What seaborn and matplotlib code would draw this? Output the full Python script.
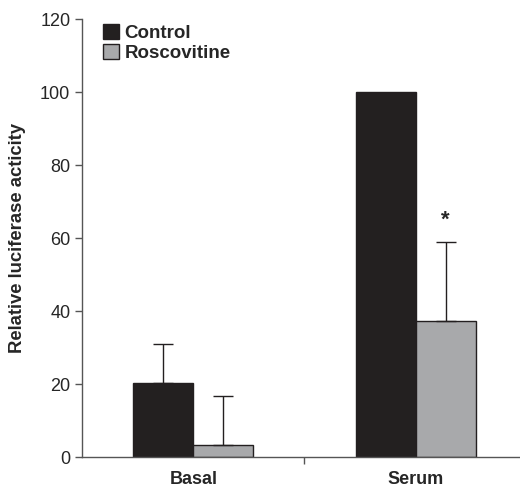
import pandas as pd
import seaborn as sns
import matplotlib.pyplot as plt

conditions = ['Basal', 'Serum']
treatments = ['Control', 'Roscovitine']
control_vals = [20.3, 100.0]
rosco_vals = [3.3, 37.3]
control_err = [10.8, 0.0]
rosco_err = [13.5, 21.7]

df = pd.DataFrame({
    'condition': conditions * 2,
    'treatment': [treatments[0]] * 2 + [treatments[1]] * 2,
    'value': control_vals + rosco_vals,
})

sns.set_style('ticks')
plt.rcParams['font.family'] = ['Liberation Sans', 'DejaVu Sans']

fig = plt.figure(figsize=(5.2, 4.88), dpi=100)
ax = fig.add_axes([0.158, 0.0635, 0.842, 0.8975])

sns.barplot(data=df, x='condition', y='value', hue='treatment',
            palette=['#231f20', '#a7a9ac'], width=0.54, errorbar=None,
            edgecolor='#231f20', linewidth=1.0, ax=ax)

# upward-only error bars
for cont, errs in zip(ax.containers, [control_err, rosco_err]):
    for p, e in zip(cont.patches, errs):
        if e > 0:
            cx = p.get_x() + p.get_width() / 2
            ax.errorbar(cx, p.get_height(), yerr=[[0], [e]], fmt='none',
                        ecolor='#231f20', elinewidth=1.0, capsize=7, capthick=1.0)

# significance star over Serum / Roscovitine
star_patch = ax.containers[1].patches[1]
ax.text(star_patch.get_x() + star_patch.get_width() / 2, 62, '*',
        ha='center', va='bottom', fontsize=16, fontweight='bold')

ax.set_ylim(0, 120)
ax.set_xlim(-0.5, 1.47)
ax.set_yticks(range(0, 121, 20))
ax.tick_params(axis='y', labelsize=13, length=5, width=1, color='#555555')
ax.set_xticks([0, 1])
ax.set_xticklabels(conditions, fontsize=13, fontweight='bold')
ax.tick_params(axis='x', length=0, pad=10)
ax.set_xticks([0.5], minor=True)
ax.tick_params(axis='x', which='minor', length=5, width=1, color='#555555')
ax.set_xlabel('')
ax.set_ylabel('Relative luciferase acticity', fontsize=13.3, fontweight='bold', labelpad=10)
sns.despine(ax=ax)
for s in ['left', 'bottom']:
    ax.spines[s].set_color('#555555')
    ax.spines[s].set_linewidth(1.0)

ax.legend(loc='upper left', bbox_to_anchor=(0.03, 1.005), frameon=False,
          prop={'weight': 'bold', 'size': 13.5}, handlelength=0.85,
          handleheight=0.85, handletextpad=0.3, labelspacing=0.1, borderaxespad=0)

fig.savefig('out.png', dpi=100)
